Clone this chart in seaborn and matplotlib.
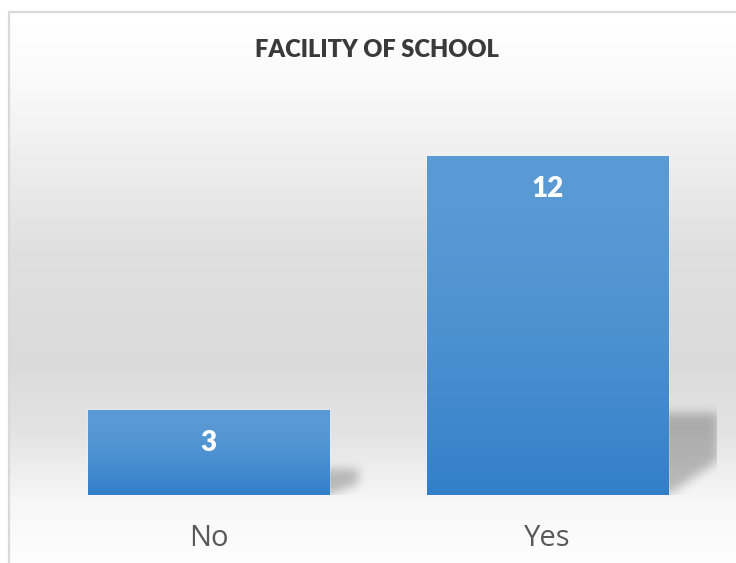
import numpy as np
import pandas as pd
import matplotlib
matplotlib.use("Agg")
import matplotlib.pyplot as plt
import seaborn as sns

# ==========================================
# DATA
# ==========================================
categories = ["No", "Yes"]
values = [3, 12]
title = "FACILITY OF SCHOOL"

df = pd.DataFrame({"answer": categories, "count": values})

W, H = 736, 563
sns.set_style("white")
plt.rcParams["font.family"] = ["Open Sans", "DejaVu Sans"]

fig = plt.figure(figsize=(W / 100, H / 100), dpi=100)
fig.patch.set_facecolor("white")

# ==========================================
# BACKGROUND (chart area gradient + border)
# ==========================================
bg = fig.add_axes([0, 0, 1, 1])
bg.set_xlim(0, W)
bg.set_ylim(H, 0)
bg.axis("off")

rows = np.arange(12, H)
shade = np.interp(rows, [12, 90, 250, 360, 430, 500, 563],
                  [255, 248, 223, 218, 226, 246, 253]) / 255
bg.imshow(np.tile(shade[:, None], (1, 50)), cmap="gray", vmin=0, vmax=1,
          extent=[9, W, H, 12], aspect="auto", interpolation="nearest")
bg.plot([9, 9, W + 2], [H + 2, 12, 12], color="#d9d9d9", lw=1.6)

# ==========================================
# BARS
# ==========================================
ax = fig.add_axes([39 / W, 68 / H, 678 / W, 395.5 / H])
ax.set_facecolor("none")
sns.barplot(data=df, x="answer", y="count", color="#5b9bd5", width=0.711,
            saturation=1, ax=ax, zorder=3)
ax.set_xlim(-0.5, 1.5)
ax.set_ylim(0, 14)

px_x = 678 / 2.0   # pixels per x unit
px_y = 395.5 / 14  # pixels per y unit


def blur(a, s):
    t = np.arange(-3 * s, 3 * s + 1)
    k = np.exp(-t ** 2 / (2 * s * s))
    k /= k.sum()
    a = np.apply_along_axis(lambda r: np.convolve(r, k, mode="same"), 1, a)
    a = np.apply_along_axis(lambda c: np.convolve(c, k, mode="same"), 0, a)
    return a


grad = np.linspace(0, 1, 200)[:, None]
top_c = np.array([0x5b, 0x9b, 0xd5]) / 255
bot_c = np.array([0x32, 0x7f, 0xc9]) / 255

for p in ax.patches:
    x0, x1 = p.get_x(), p.get_x() + p.get_width()
    h = p.get_height()
    h_px = h * px_y

    # gradient fill clipped to bar
    g = top_c + (bot_c - top_c) * grad ** 1.6
    im = ax.imshow(g[:, None, :], extent=[x0, x1, 0, h], aspect="auto",
                   origin="upper", zorder=3.5, interpolation="bilinear")
    im.set_clip_path(p)

    # perspective shadow to the right of the bar
    w_s = 22 + 0.085 * h_px
    h_s = 0.22 * h_px + 8
    m = 14
    xs = np.arange(-20, w_s + m)
    ys = np.arange(-m, h_s + m)
    X, Y = np.meshgrid(xs, ys)
    mask = ((X <= w_s) & (Y >= 0) & (Y <= h_s)
            & (Y >= 0.42 * h_s * X / w_s)).astype(float)
    mask = blur(mask, 5)
    rgba = np.zeros(mask.shape + (4,))
    rgba[..., 3] = 0.24 * mask
    ax.imshow(rgba, origin="lower", aspect="auto", zorder=2,
              extent=[x1 + xs[0] / px_x, x1 + xs[-1] / px_x,
                      ys[0] / px_y, ys[-1] / px_y])

    ax.annotate(f"{int(h)}", xy=(p.get_x() + p.get_width() / 2, h),
                xytext=(0, -23.8), textcoords="offset points",
                ha="center", va="center", color="white", fontsize=20,
                fontweight="heavy", family=["Lato", "DejaVu Sans"], zorder=5)

ax.set_xlim(-0.5, 1.5)
ax.set_ylim(0, 14)
ax.set_xlabel("")
ax.set_ylabel("")
ax.set_yticks([])
ax.tick_params(axis="x", length=0, pad=21, labelsize=21, labelcolor="#595959")
for s in ax.spines.values():
    s.set_visible(False)

fig.text(377 / W, 1 - 50 / H, title, ha="center", va="center",
         fontsize=17, fontweight="heavy", color="#3a3a3a",
         family=["Lato", "DejaVu Sans"])

fig.savefig("out.png", dpi=100)
